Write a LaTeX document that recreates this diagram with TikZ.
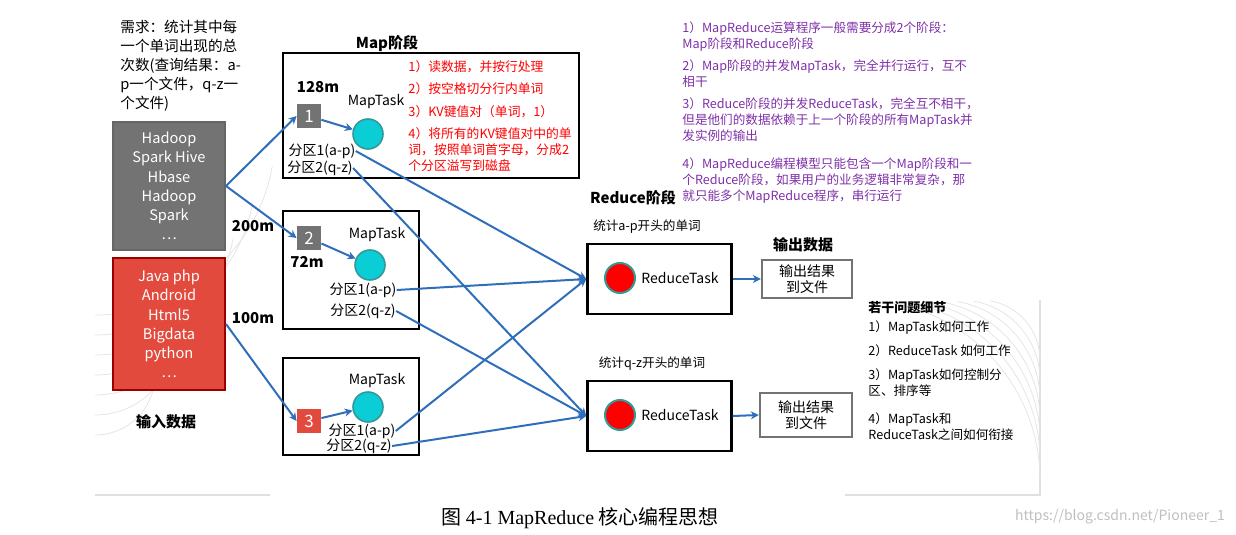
\documentclass[tikz,border=0pt]{standalone}
\usepackage{fontspec}
\setmainfont{Noto Sans CJK SC}
\newfontfamily\lat{Liberation Serif}
\usetikzlibrary{arrows.meta}
\definecolor{arrowblue}{HTML}{2F6EBA}
\definecolor{boxred}{HTML}{E34A3E}
\definecolor{tealc}{HTML}{0BCDD6}
\definecolor{purp}{HTML}{7F2FA8}
\tikzset{
  txt/.style={inner sep=0pt, font=\fontsize{7}{8.2}\selectfont},
  bold/.style={txt, font=\fontsize{7.5}{9}\selectfont\bfseries},
  stage/.style={draw=black, line width=1.2pt},
  flow/.style={draw=arrowblue, line width=1pt, -{Stealth[length=4pt,width=4pt]}},
  num/.style={minimum size=12pt, inner sep=0pt, text=white, font=\fontsize{8.5}{9}\selectfont},
  mtask/.style={circle, fill=tealc, draw=teal!80, line width=0.8pt, minimum size=15pt, inner sep=0pt},
  rtask/.style={circle, fill=red, draw=teal!80, line width=1pt, minimum size=15pt, inner sep=0pt},
  input/.style={line width=1pt, minimum width=56pt, text=white, inner sep=0pt, align=center, font=\fontsize{7.3}{9.6}\selectfont},
}
\begin{document}
\begin{tikzpicture}[x=0.5pt,y=-0.5pt]
\useasboundingbox (0,0) rectangle (1236,535);
% background frame
\draw[black!12, line width=1pt] (95,495) -- (270,495) (845,495) -- (1040,495) -- (1040,300);
\foreach \r in {60,80,...,180}
  \draw[black!10] (95,495-\r) arc (90:10:\r);
\foreach \r in {60,80,...,180}
  \draw[black!10] (1040,300+\r) arc (0:-80:\r);
% requirement
\node[txt, anchor=north west, align=left, font=\fontsize{7.3}{9.5}\selectfont] (req) at (120,20)
  {需求：统计其中每\\一个单词出现的总\\次数(查询结果：a-\\p一个文件，q-z一\\个文件)};
% input data
\node[input, fill=black!55, draw=black!60, minimum height=64pt] (gray) at (169,186) {Hadoop\\Spark Hive\\Hbase\\Hadoop\\Spark\\\dots};
\node[input, fill=boxred, draw=red!60!black, minimum height=66pt] (redin) at (169,324) {Java php\\Android\\Html5\\Bigdata\\python\\\dots};
\node[bold] (indata) at (166,422) {输入数据};
% map stage
\node[bold] (maphead) at (387,44) {Map阶段};
\draw[stage] (283,53) rectangle (579,178);
\draw[stage] (283,211) rectangle (419,329);
\draw[stage] (283,358) rectangle (419,455);
\node[num, fill=black!55] (s1) at (309,116) {1};
\node[num, fill=black!55] (s2) at (309,238) {2};
\node[num, fill=boxred] (s3) at (309,421) {3};
\node[mtask] (m1) at (368,134) {};
\node[mtask] (m2) at (370,265) {};
\node[mtask] (m3) at (368,407) {};
\node[txt] (t1) at (376,102) {MapTask};
\node[txt] (t2) at (377,235) {MapTask};
\node[txt] (t3) at (377,381) {MapTask};
\node[bold] (l128) at (318,87) {128m};
\node[bold] (l200) at (253,226) {200m};
\node[bold] (l72) at (307,262) {72m};
\node[bold] (l100) at (253,318) {100m};
\node[txt] (p11) at (322,151) {分区1(a-p)};
\node[txt] (p12) at (320,168) {分区2(q-z)};
\node[txt] (p21) at (363,290) {分区1(a-p)};
\node[txt] (p22) at (363,311) {分区2(q-z)};
\node[txt] (p31) at (362,431) {分区1(a-p)};
\node[txt] (p32) at (359,446) {分区2(q-z)};
\node[txt, text=red, anchor=north west, align=left, font=\fontsize{6.4}{8}\selectfont]
  (steps) at (408,60) {1）读数据，并按行处理\\[3.2pt]2）按空格切分行内单词\\[3.2pt]3）KV键值对（单词，1）\\[3.2pt]4）将所有的KV键值对中的单\\词，按照单词首字母，分成2\\个分区溢写到磁盘};
% reduce stage
\node[bold] (redhead) at (633,198) {Reduce阶段};
\node[txt, font=\fontsize{6.3}{8}\selectfont] (rl1) at (647,227) {统计a-p开头的单词};
\node[txt, font=\fontsize{6.3}{8}\selectfont] (rl2) at (652,364) {统计q-z开头的单词};
\node[stage, minimum width=72pt, minimum height=35pt] (r1) at (659.5,279) {};
\node[stage, minimum width=72pt, minimum height=35pt] (r2) at (659.5,416) {};
\node[rtask] (rc1) at (620,278) {};
\node[rtask] (rc2) at (620,415) {};
\node[txt] at (680,278) {ReduceTask};
\node[txt] at (680,415) {ReduceTask};
% output
\node[bold] (outhead) at (803,245) {输出数据};
\node[draw=black!55, line width=1.2pt, minimum width=45pt, minimum height=19pt, txt, align=center, inner sep=1pt] (o1) at (807,279) {输出结果\\到文件};
\node[draw=black!55, line width=1.2pt, minimum width=46pt, minimum height=22pt, txt, align=center, inner sep=1pt] (o2) at (806,415) {输出结果\\到文件};
% notes
\node[txt, text=purp, anchor=north west, align=left, font=\fontsize{6.3}{8}\selectfont]
  (notes) at (682,21) {1）MapReduce运算程序一般需要分成2个阶段：\\Map阶段和Reduce阶段\\[3pt]2）Map阶段的并发MapTask，完全并行运行，互不\\相干\\[3pt]3）Reduce阶段的并发ReduceTask，完全互不相干，\\但是他们的数据依赖于上一个阶段的所有MapTask并\\发实例的输出\\[6pt]4）MapReduce编程模型只能包含一个Map阶段和一\\个Reduce阶段，如果用户的业务逻辑非常复杂，那\\就只能多个MapReduce程序，串行运行};
\node[bold, anchor=west, font=\fontsize{6.5}{8}\selectfont\bfseries] (qhead) at (868,308) {若干问题细节};
\node[txt, anchor=north west, align=left, font=\fontsize{6.3}{8}\selectfont]
  (qs) at (868,320) {1）MapTask如何工作\\[4pt]2）ReduceTask 如何工作\\[4pt]3）MapTask如何控制分\\区、排序等\\[6pt]4）MapTask和\\ReduceTask之间如何衔接};
% caption
\node[inner sep=0pt, font=\fontsize{10}{12}\selectfont] (cap) at (580,518) {图 {\lat 4-1 MapReduce} 核心编程思想};
\node[inner sep=0pt, text=black!25, font=\fontsize{7}{8}\selectfont] (wm) at (1120,517) {https://blog.csdn.net/Pioneer\_1};
% connectors
\draw[flow] (gray.east) -- (s1.west);
\draw[flow] (gray.east) -- (s2.west);
\draw[flow] (redin.east) -- (s3.west);
\draw[flow] (s1) -- (m1);
\draw[flow] (s2) -- (m2);
\draw[flow] (s3) -- (m3);
\draw[flow] (p11.east) -- (r1.west);
\draw[flow] (p12.east) -- (r2.west);
\draw[flow] (p21.east) -- (r1.west);
\draw[flow] (p22.east) -- (r2.west);
\draw[flow] (p31.east) -- (r1.west);
\draw[flow] (p32.east) -- (r2.west);
\draw[flow] (r1.east) -- (o1.west);
\draw[flow] (r2.east) -- (o2.west);
\end{tikzpicture}
\end{document}
